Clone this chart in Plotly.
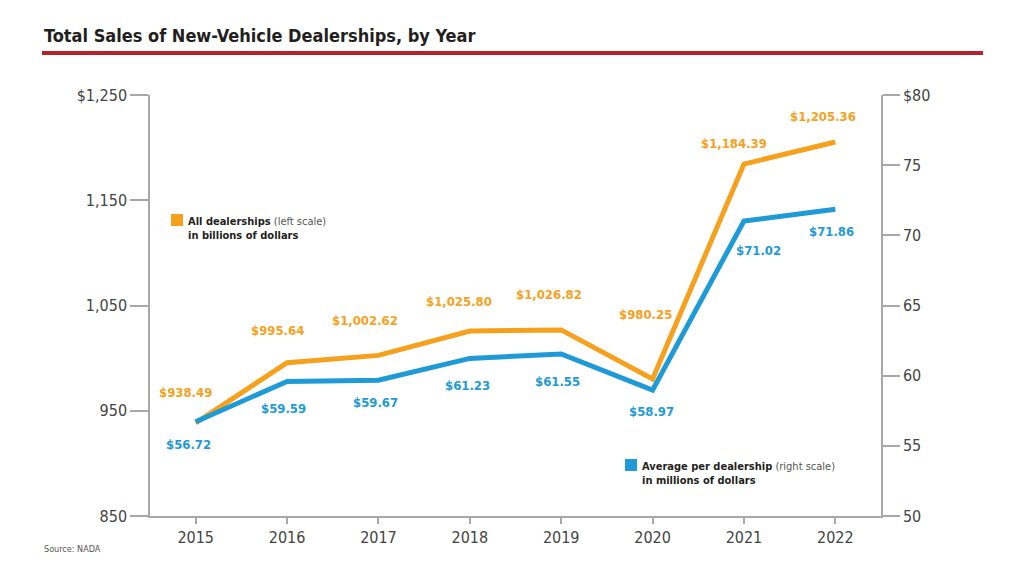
import plotly.graph_objects as go

years = ["2015", "2016", "2017", "2018", "2019", "2020", "2021", "2022"]
all_dealerships = [938.49, 995.64, 1002.62, 1025.80, 1026.82, 980.25, 1184.39, 1205.36]
avg_per_dealership = [56.72, 59.59, 59.67, 61.23, 61.55, 58.97, 71.02, 71.86]
all_labels = ["$938.49", "$995.64", "$1,002.62", "$1,025.80", "$1,026.82", "$980.25", "$1,184.39", "$1,205.36"]
avg_labels = ["$56.72", "$59.59", "$59.67", "$61.23", "$61.55", "$58.97", "$71.02", "$71.86"]
left_ticks = [850, 950, 1050, 1150, 1250]
left_tick_text = ["850", "950", "1,050", "1,150", "$1,250"]
right_ticks = [50, 55, 60, 65, 70, 75, 80]
right_tick_text = ["50", "55", "60", "65", "70", "75", "$80"]

ORANGE = "#F6A11D"
BLUE = "#1E9AD6"
AXIS = "#A8A8A8"
FONT = "DejaVu Sans Condensed, Liberation Sans Narrow, Roboto Condensed, Liberation Sans, sans-serif"

# page body has an 8px margin; figure is placed at (8, 8)
OFF = 8
W, H = 1024 - OFF, 567 - OFF
L, R, T, B = 150 - OFF, 143, 95 - OFF, 51
pw, ph = W - L - R, H - T - B


def px(x):
    return (x - OFF - L) / pw


def py(y):
    return (H - B - (y - OFF)) / ph


fig = go.Figure()
fig.add_trace(go.Scatter(x=list(range(len(years))), y=all_dealerships, mode="lines",
                         line=dict(color=ORANGE, width=5), yaxis="y", showlegend=False,
                         hoverinfo="skip"))
fig.add_trace(go.Scatter(x=list(range(len(years))), y=avg_per_dealership, mode="lines",
                         line=dict(color=BLUE, width=5), yaxis="y2", showlegend=False,
                         hoverinfo="skip"))

# label offsets (pixels) relative to the data points
orange_shift = [(-10, 30), (-10, 32), (-13, 35), (-11, 29), (-12, 35), (-7, 64), (-10, 21), (-12, 25)]
blue_shift = [(-7, -23), (-4, -27), (-3, -22), (-2, -27), (-4, -28), (-1, -21), (15, -29), (-4, -22)]

annotations = []
for i in range(len(years)):
    dx, dy = orange_shift[i]
    annotations.append(dict(x=i, y=all_dealerships[i], xref="x", yref="y",
                            text="<b>" + all_labels[i] + "</b>", showarrow=False, xshift=dx, yshift=dy,
                            font=dict(family=FONT, size=13, color=ORANGE)))
    dx, dy = blue_shift[i]
    annotations.append(dict(x=i, y=avg_per_dealership[i], xref="x", yref="y2",
                            text="<b>" + avg_labels[i] + "</b>", showarrow=False, xshift=dx, yshift=dy,
                            font=dict(family=FONT, size=13, color=BLUE)))

annotations.append(dict(x=px(42), y=py(36), xref="paper", yref="paper",
                        text="<b>Total Sales of New-Vehicle Dealerships, by Year</b>",
                        showarrow=False, xanchor="left", yanchor="middle",
                        font=dict(family=FONT, size=18, color="#231F20")))
annotations.append(dict(x=px(186), y=py(213), xref="paper", yref="paper",
                        text="<b>All dealerships</b> <span style='color:#555'>(left scale)</span><br><b>in billions of dollars</b>",
                        showarrow=False, xanchor="left", yanchor="top", align="left",
                        font=dict(family=FONT, size=11, color="#231F20")))
annotations.append(dict(x=px(640), y=py(458), xref="paper", yref="paper",
                        text="<b>Average per dealership</b> <span style='color:#555'>(right scale)</span><br><b>in millions of dollars</b>",
                        showarrow=False, xanchor="left", yanchor="top", align="left",
                        font=dict(family=FONT, size=11, color="#231F20")))
annotations.append(dict(x=px(42), y=py(549), xref="paper", yref="paper",
                        text="Source: NADA", showarrow=False, xanchor="left", yanchor="middle",
                        font=dict(family=FONT, size=9, color="#555")))

shapes = [
    dict(type="line", xref="paper", yref="paper", x0=px(42), x1=px(983), y0=py(53), y1=py(53),
         line=dict(color="#B5212F", width=4)),
    dict(type="rect", xref="paper", yref="paper", x0=px(171), x1=px(183), y0=py(214), y1=py(226),
         fillcolor=ORANGE, line=dict(width=0)),
    dict(type="rect", xref="paper", yref="paper", x0=px(625), x1=px(637), y0=py(459), y1=py(471),
         fillcolor=BLUE, line=dict(width=0)),
]

fig.update_layout(
    width=W, height=H,
    margin=dict(l=L, r=R, t=T, b=B),
    paper_bgcolor="white", plot_bgcolor="white",
    font=dict(family=FONT, size=16, color="#444"),
    xaxis=dict(range=[-0.5, 7.5], tickvals=list(range(len(years))), ticktext=years,
               showgrid=False, zeroline=False,
               showline=True, linecolor=AXIS, linewidth=1.5,
               ticks="outside", ticklen=6, tickcolor=AXIS, tickwidth=1.5,
               tickfont=dict(family=FONT, size=16, color="#444")),
    yaxis=dict(range=[850, 1250], tickvals=left_ticks, ticktext=left_tick_text,
               showgrid=False, zeroline=False, showline=True, linecolor=AXIS, linewidth=1.5,
               ticks="outside", ticklen=18, tickcolor=AXIS, tickwidth=1.5,
               tickfont=dict(family=FONT, size=16, color="#444")),
    yaxis2=dict(range=[50, 80], tickvals=right_ticks, ticktext=right_tick_text,
                overlaying="y", side="right", showgrid=False, zeroline=False,
                showline=True, linecolor=AXIS, linewidth=1.5,
                ticks="outside", ticklen=17, tickcolor=AXIS, tickwidth=1.5,
                tickfont=dict(family=FONT, size=16, color="#444")),
    annotations=annotations,
    shapes=shapes,
)

fig.write_html("out.html")
